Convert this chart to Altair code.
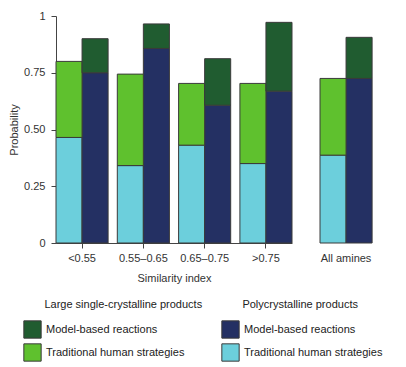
import altair as alt
import pandas as pd

groups = ["<0.55", "0.55–0.65", "0.65–0.75", ">0.75"]
trad_poly = [0.465, 0.341, 0.431, 0.350]
trad_single = [0.800, 0.744, 0.703, 0.703]
model_poly = [0.750, 0.857, 0.607, 0.669]
model_single = [0.900, 0.965, 0.812, 0.972]

all_groups = ["All amines"]
all_trad_poly = [0.387]
all_trad_single = [0.725]
all_model_poly = [0.725]
all_model_single = [0.906]

methods = ["Model-based reactions", "Traditional human strategies"]
bar_order = ["Traditional human strategies", "Model-based reactions"]
single_colors = ["#205c30", "#5fc12e"]
poly_colors = ["#243063", "#6ccfdc"]

FONT = "Liberation Sans"
TXT = "#333333"
AX = "#444444"
EDGE = "#3a3a3a"


def frame(labels, tp, ts, mp, ms):
    rows = []
    for g, a, b, c, d in zip(labels, tp, ts, mp, ms):
        rows.append(dict(group=g, method=methods[1], poly=a, single=b))
        rows.append(dict(group=g, method=methods[0], poly=c, single=d))
    return pd.DataFrame(rows)


def legend(title, x):
    return alt.Legend(
        title="\u200b" + "\u00a0" * 7 + title, orient="none", legendX=x, legendY=283,
        direction="vertical", symbolType="square", symbolSize=300,
        symbolStrokeColor=EDGE, symbolStrokeWidth=1, symbolOpacity=1,
        labelFontSize=11, titleFontSize=11, titleFontWeight="normal",
        labelColor="#222", titleColor="#222", rowPadding=0, titlePadding=10,
        labelOffset=4, labelFont=FONT, titleFont=FONT,
    )


def panel(df, labels, width, yaxis, xaxis, show_legend, pad_inner):
    base = alt.Chart(df).encode(
        x=alt.X("group:N", sort=labels, axis=xaxis,
                scale=alt.Scale(paddingInner=pad_inner, paddingOuter=0)),
        xOffset=alt.XOffset("method:N", sort=bar_order,
                            scale=alt.Scale(domain=bar_order, paddingInner=0, paddingOuter=0)),
    )
    lower = base.mark_bar(stroke=EDGE, strokeWidth=1, opacity=1).encode(
        y=alt.Y("poly:Q", stack=None, scale=alt.Scale(domain=[0, 1]), axis=yaxis),
        color=alt.Color("method:N",
                        scale=alt.Scale(domain=methods, range=poly_colors),
                        legend=legend("Polycrystalline products", 165) if show_legend else None),
    )
    upper = base.mark_bar(stroke=EDGE, strokeWidth=1, opacity=1).encode(
        y=alt.Y("single:Q", stack=None, scale=alt.Scale(domain=[0, 1])),
        y2="poly:Q",
        color=alt.Color("method:N",
                        scale=alt.Scale(domain=methods, range=single_colors),
                        legend=legend("Large single-crystalline products", -33) if show_legend else None),
    )
    return alt.layer(lower, upper).resolve_scale(color="independent").properties(
        width=width, height=227)


yaxis = alt.Axis(
    title="Probability", values=[i / 8 for i in range(9)],
    labelExpr="datum.value == 0 ? '0' : datum.value == 1 ? '1' : (round(datum.value*8) % 2 == 0 ? format(datum.value, '.2f') : '')",
    tickSize=5, labelPadding=6, titlePadding=4, grid=False,
    domainColor=AX, tickColor=AX, labelColor=TXT, titleColor=TXT,
    labelFontSize=11, titleFontSize=11, titleFontWeight="normal",
)
xaxis_left = alt.Axis(
    title="Similarity index", labelAngle=0, tickSize=5, labelPadding=4, titlePadding=9,
    domainColor=AX, tickColor=AX, labelColor=TXT, titleColor=TXT,
    labelFontSize=11, titleFontSize=11, titleFontWeight="normal",
)
xaxis_right = alt.Axis(
    title=None, labelAngle=0, tickSize=5, labelPadding=4, domain=False,
    tickColor="transparent", labelColor=TXT, labelFontSize=11,
)

left = panel(frame(groups, trad_poly, trad_single, model_poly, model_single),
             groups, 236, yaxis, xaxis_left, True, 0.15)
right = panel(frame(all_groups, all_trad_poly, all_trad_single, all_model_poly, all_model_single),
              all_groups, 52, None, xaxis_right, False, 0)

chart = alt.hconcat(left, right, spacing=28, bounds="flush").resolve_scale(color="independent").properties(
    padding={"left": 0, "top": 2, "right": 5, "bottom": 5}
).configure(font=FONT).configure_view(stroke=None)

chart.save("out.html", embed_options={"renderer": "svg", "actions": False})
